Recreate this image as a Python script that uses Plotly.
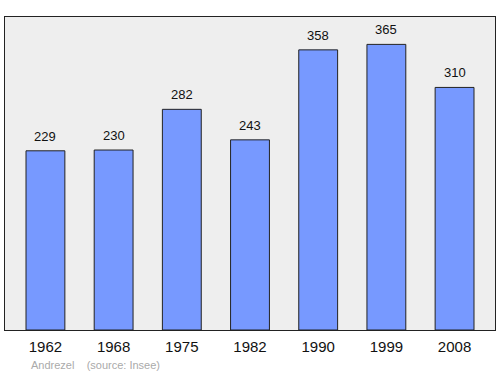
import plotly.graph_objects as go

years = ["1962", "1968", "1975", "1982", "1990", "1999", "2008"]
population = [229, 230, 282, 243, 358, 365, 310]
source_text = "Andrezel    (source: Insee)"

x_idx = list(range(len(years)))

fig = go.Figure()
fig.add_trace(go.Bar(
    x=x_idx, y=population, width=0.57,
    marker=dict(color="#7799ff", line=dict(color="#222222", width=1)),
    hoverinfo="skip",
))
for xi, v in zip(x_idx, population):
    fig.add_annotation(x=xi, y=v, text=str(v), showarrow=False,
                       yanchor="bottom", yshift=5,
                       font=dict(family="Liberation Sans, Arial", size=13, color="#111111"))
fig.add_annotation(xref="paper", yref="paper", x=(29 - 5) / 490, y=-(365 - 330) / 313,
                   xanchor="left", yanchor="middle", text=source_text, showarrow=False,
                   font=dict(family="Liberation Sans, Arial", size=11, color="#aaaaaa"))

fig.update_layout(
    width=500, height=374,
    margin=dict(l=5, r=5, t=17, b=44),
    paper_bgcolor="white", plot_bgcolor="#eeeeee",
    showlegend=False,
    font=dict(family="Liberation Sans, Arial", color="#111111"),
    xaxis=dict(range=[-0.593, 6.593], tickvals=x_idx, ticktext=years,
               showgrid=False, zeroline=False, showline=True, mirror=True,
               linecolor="#222222", linewidth=1, ticks="",
               ticklabelstandoff=3,
               tickfont=dict(size=15), fixedrange=True),
    yaxis=dict(range=[0, 400], showticklabels=False, showgrid=False, zeroline=False,
               showline=True, mirror=True, linecolor="#222222", linewidth=1, ticks="",
               fixedrange=True),
)
fig.write_html("out.html")
